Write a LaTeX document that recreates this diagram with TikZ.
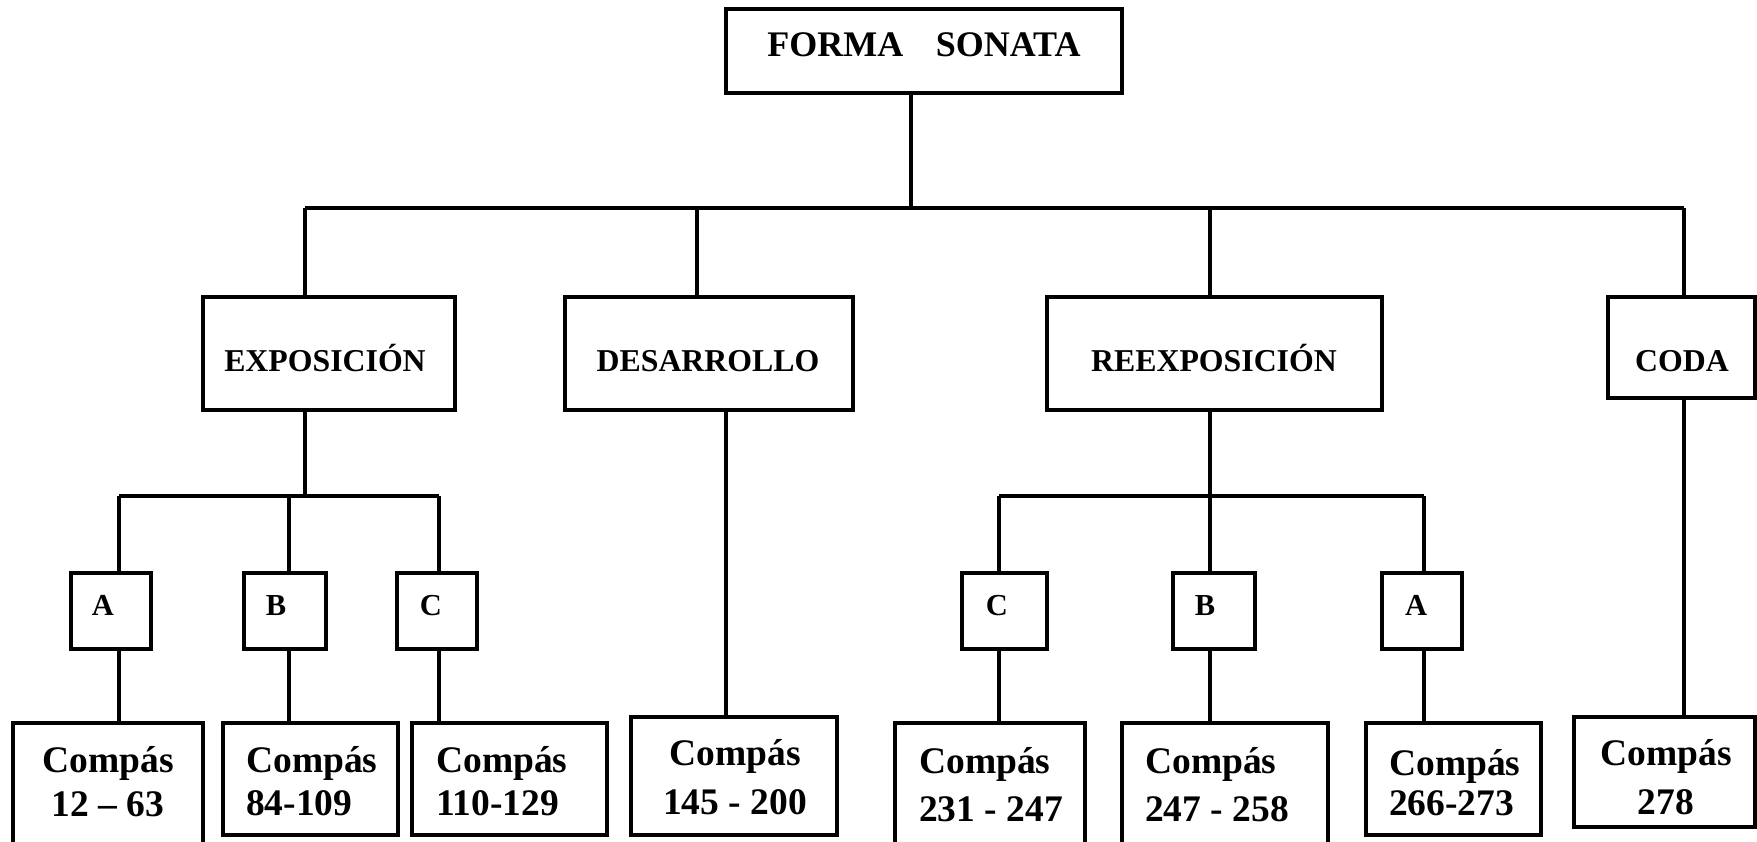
\documentclass[tikz,border=0pt]{standalone}
\usepackage{fontspec}
\setmainfont{Liberation Serif}
\begin{document}
\begin{tikzpicture}[x=1pt,y=-1pt,
  box/.style={draw,line width=4pt,inner sep=0pt},
  wire/.style={line width=3.6pt},
  title/.style={font=\bfseries\fontsize{36}{42}\selectfont,inner sep=0pt,anchor=base},
  lbl/.style={font=\bfseries\fontsize{31.8}{36}\selectfont,inner sep=0pt,anchor=base},
  letter/.style={font=\bfseries\fontsize{30.5}{36}\selectfont,inner sep=0pt,anchor=base},
  bar/.style={font=\bfseries\fontsize{37.5}{42}\selectfont,inner sep=0pt,anchor=base},
  barL/.style={bar,anchor=base west}]
\useasboundingbox (0,0) rectangle (1757,842);
\clip (0,0) rectangle (1757,842);

% root
\node[box,minimum width=396pt,minimum height=84pt] (top) at (924,51) {};
\node[title] (topt) at (924,57) {FORMA\hspace{0.9em}SONATA};

% sections
\node[box,minimum width=252pt,minimum height=113pt] (expo) at (329,353.5) {};
\node[box,minimum width=288pt,minimum height=113pt] (desa) at (709,353.5) {};
\node[box,minimum width=335pt,minimum height=113pt] (reex) at (1214.5,353.5) {};
\node[box,minimum width=147pt,minimum height=101pt] (coda) at (1681.5,347.5) {};
\node[lbl] (expot) at (325,371) {EXPOSICIÓN};
\node[lbl] (desat) at (708,371) {DESARROLLO};
\node[lbl] (reext) at (1214,371) {REEXPOSICIÓN};
\node[lbl] (codat) at (1682,371) {CODA};

% themes
\node[box,minimum width=80pt,minimum height=76pt] (A1) at (111,611) {};
\node[box,minimum width=82pt,minimum height=76pt] (B1) at (285,611) {};
\node[box,minimum width=80pt,minimum height=76pt] (C1) at (437,611) {};
\node[box,minimum width=85pt,minimum height=76pt] (C2) at (1004.5,611) {};
\node[box,minimum width=82pt,minimum height=76pt] (B2) at (1214,611) {};
\node[box,minimum width=80pt,minimum height=76pt] (A2) at (1422,611) {};
\node[letter] (A1t) at (103,615) {A};
\node[letter] (B1t) at (276,615) {B};
\node[letter] (C1t) at (431,615) {C};
\node[letter] (C2t) at (997,615) {C};
\node[letter] (B2t) at (1205,615) {B};
\node[letter] (A2t) at (1416,615) {A};

% bar ranges
\node[box,minimum width=190pt,minimum height=147pt] (m1) at (108,796.5) {};
\node[box,minimum width=175pt,minimum height=112pt] (m2) at (310.5,779) {};
\node[box,minimum width=195pt,minimum height=112pt] (m3) at (509.5,779) {};
\node[box,minimum width=206pt,minimum height=118pt] (m4) at (734,776) {};
\node[box,minimum width=190pt,minimum height=147pt] (m5) at (990,796.5) {};
\node[box,minimum width=206pt,minimum height=147pt] (m6) at (1225,796.5) {};
\node[box,minimum width=175pt,minimum height=112pt] (m7) at (1453.5,779) {};
\node[box,minimum width=181pt,minimum height=110pt] (m8) at (1664.5,772) {};

\node[bar] (m1a) at (108,772) {Compás};
\node[bar] (m1b) at (108,816) {12 – 63};
\node[barL] (m2a) at (246,772) {Compás};
\node[barL] (m2b) at (246,815) {84-109};
\node[barL] (m3a) at (436,772) {Compás};
\node[barL] (m3b) at (436,815) {110-129};
\node[bar] (m4a) at (735,765) {Compás};
\node[bar] (m4b) at (735,814) {145 - 200};
\node[barL] (m5a) at (919,773) {Compás};
\node[barL] (m5b) at (919,821) {231 - 247};
\node[barL] (m6a) at (1145,773) {Compás};
\node[barL] (m6b) at (1145,821) {247 - 258};
\node[barL] (m7a) at (1389,775) {Compás};
\node[barL] (m7b) at (1389,815) {266-273};
\node[bar] (m8a) at (1666,765) {Compás};
\node[bar] (m8b) at (1666,814) {278};

% main tree
\coordinate (t0) at (911,208);
\coordinate (bL) at (305,208);
\coordinate (bD) at (697,208);
\coordinate (bX) at (1210,208);
\coordinate (bR) at (1684,208);
\draw[wire] (t0 |- top.south) -- (t0);
\draw[wire] (bL) -- (bR);
\draw[wire] (bL) -- (bL |- expo.north);
\draw[wire] (bD) -- (bD |- desa.north);
\draw[wire] (bX) -- (bX |- reex.north);
\draw[wire] (bR) -- (bR |- coda.north);

% exposition branch
\coordinate (e0) at (305,496);
\coordinate (eA) at (119,496);
\coordinate (eB) at (289,496);
\coordinate (eC) at (439,496);
\draw[wire] (e0 |- expo.south) -- (e0);
\draw[wire] (eA) -- (eC);
\draw[wire] (eA) -- (eA |- A1.north);
\draw[wire] (eB) -- (eB |- B1.north);
\draw[wire] (eC) -- (eC |- C1.north);
\draw[wire] (A1.south -| eA) -- (m1.north -| eA);
\draw[wire] (B1.south -| eB) -- (m2.north -| eB);
\draw[wire] (C1.south -| eC) -- (m3.north -| eC);

% development branch
\coordinate (d0) at (726,600);
\draw[wire] (desa.south -| d0) -- (m4.north -| d0);

% recapitulation branch
\coordinate (r0) at (1210,496);
\coordinate (rC) at (999,496);
\coordinate (rA) at (1424,496);
\draw[wire] (r0 |- reex.south) -- (r0 |- B2.north);
\draw[wire] (rC) -- (rA);
\draw[wire] (rC) -- (rC |- C2.north);
\draw[wire] (rA) -- (rA |- A2.north);
\draw[wire] (C2.south -| rC) -- (m5.north -| rC);
\draw[wire] (B2.south -| r0) -- (m6.north -| r0);
\draw[wire] (A2.south -| rA) -- (m7.north -| rA);

% coda branch
\coordinate (c0) at (1684,600);
\draw[wire] (coda.south -| c0) -- (m8.north -| c0);
\end{tikzpicture}
\end{document}
